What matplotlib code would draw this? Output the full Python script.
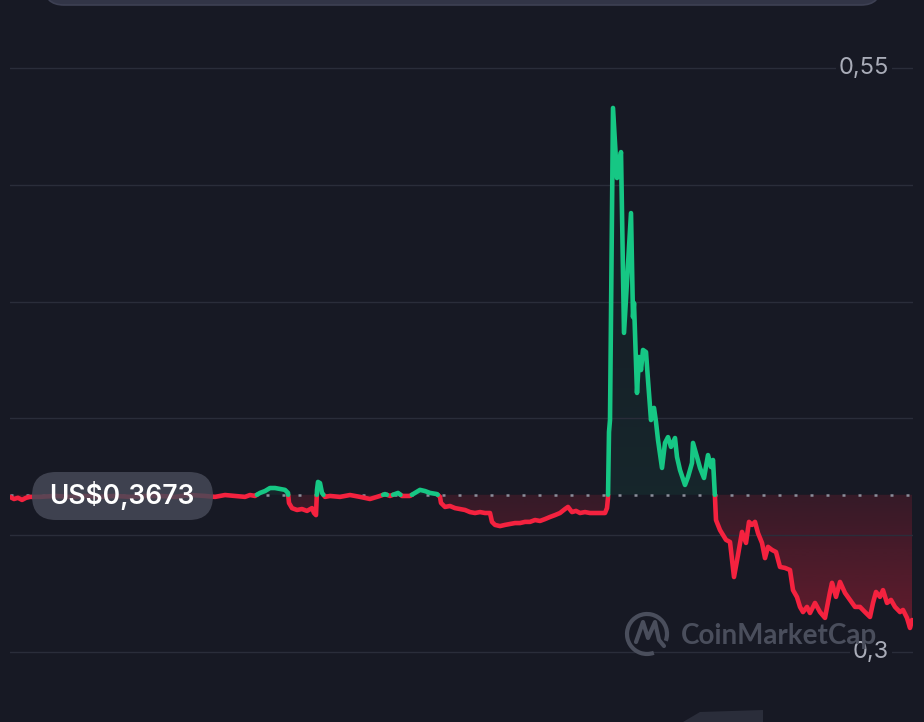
import numpy as np
import matplotlib
matplotlib.use("Agg")
import matplotlib.pyplot as plt
from matplotlib.colors import to_rgb
from matplotlib.patches import FancyBboxPatch, Arc, Polygon
from matplotlib.path import Path


BG = "#171924"
GREEN = "#16c784"
RED = "#f4223f"
GRID = "#2a2d3a"
TICK_COLOR = "#a9acb8"
MARK_COLOR = "#4a4e5c"

OPEN_PRICE = 0.3673
PRICE_LABEL = "US$0,3673"
GRID_LEVELS = [0.30, 0.35, 0.40, 0.45, 0.50, 0.55]
TICK_LABELS = {0.55: "0,55", 0.30: "0,3"}

# time steps (arbitrary units over the day) and price in USD
t = [
    0, 4, 8, 12, 16, 20, 30, 45, 60, 75, 90, 105, 120, 135, 150, 165, 180, 195,
    205, 215, 225, 235, 240, 245, 250, 255, 260, 265, 270, 275, 278, 279, 282,
    287, 292, 297, 302, 304, 306, 307, 308, 310, 312, 315, 320, 330, 340, 350,
    360, 370, 375, 380, 388, 392, 400, 405, 410, 415, 420, 427, 430, 431, 435,
    440, 445, 450, 455, 460, 465, 470, 475, 480, 482, 485, 490, 495, 500, 505,
    510, 515, 520, 525, 530, 535, 540, 545, 550, 555, 558, 562, 566, 570, 575,
    580, 585, 590, 595, 597, 598, 599, 600, 603, 607, 611, 614, 621, 623, 624,
    627, 629, 631, 633, 636, 638, 641, 644, 646, 648, 652, 655, 658, 661, 665,
    667, 670, 675, 678, 682, 683, 687, 690, 694, 698, 701, 703, 705, 706, 710,
    716, 720, 724, 728, 732, 736, 739, 742, 745, 748, 752, 755, 758, 762, 766,
    770, 775, 780, 783, 787, 790, 793, 797, 800, 805, 810, 815, 820, 822, 826,
    830, 835, 840, 845, 850, 855, 860, 863, 866, 870, 873, 877, 881, 885, 890,
    893, 897, 900, 902,
]
price = [
    0.3664, 0.3655, 0.3660, 0.3651, 0.3660, 0.3664, 0.3664, 0.3668, 0.3664,
    0.3668, 0.3664, 0.3668, 0.3664, 0.3668, 0.3668, 0.3664, 0.3672, 0.3668,
    0.3664, 0.3672, 0.3668, 0.3664, 0.3672, 0.3668, 0.3681, 0.3689, 0.3702,
    0.3702, 0.3698, 0.3694, 0.3681, 0.3638, 0.3616, 0.3608, 0.3612, 0.3604,
    0.3616, 0.3595, 0.3586, 0.3694, 0.3728, 0.3723, 0.3681, 0.3664, 0.3668,
    0.3664, 0.3672, 0.3664, 0.3655, 0.3668, 0.3676, 0.3668, 0.3681, 0.3668,
    0.3668, 0.3681, 0.3694, 0.3689, 0.3681, 0.3676, 0.3664, 0.3638, 0.3621,
    0.3625, 0.3616, 0.3612, 0.3608, 0.3599, 0.3595, 0.3599, 0.3595, 0.3595,
    0.3557, 0.3544, 0.3539, 0.3544, 0.3548, 0.3552, 0.3552, 0.3557, 0.3557,
    0.3565, 0.3561, 0.3569, 0.3578, 0.3586, 0.3595, 0.3612, 0.3621, 0.3599,
    0.3604, 0.3595, 0.3599, 0.3595, 0.3595, 0.3595, 0.3595, 0.3616, 0.3660,
    0.3942, 0.3993, 0.5329, 0.5029, 0.5140, 0.4366, 0.4879, 0.4434, 0.4494,
    0.4109, 0.4263, 0.4207, 0.4293, 0.4284, 0.4164, 0.3993, 0.4045, 0.3985,
    0.3908, 0.3788, 0.3895, 0.3920, 0.3878, 0.3916, 0.3835, 0.3779, 0.3715,
    0.3749, 0.3809, 0.3895, 0.3835, 0.3788, 0.3745, 0.3843, 0.3792, 0.3822,
    0.3660, 0.3565, 0.3522, 0.3480, 0.3471, 0.3321, 0.3415, 0.3514, 0.3467,
    0.3557, 0.3544, 0.3557, 0.3509, 0.3467, 0.3402, 0.3450, 0.3437, 0.3428,
    0.3364, 0.3360, 0.3351, 0.3265, 0.3235, 0.3193, 0.3171, 0.3193, 0.3167,
    0.3210, 0.3171, 0.3146, 0.3257, 0.3296, 0.3236, 0.3300, 0.3253, 0.3223,
    0.3193, 0.3193, 0.3171, 0.3150, 0.3210, 0.3257, 0.3236, 0.3265, 0.3210,
    0.3223, 0.3193, 0.3171, 0.3180, 0.3146, 0.3103, 0.3137,
]

W, H = 924, 722
Y_PER_PX = 0.25 / 584  # 0,55 -> px 68, 0,3 -> px 652
Y_TOP = 0.55 + 68 * Y_PER_PX
Y_BOTTOM = 0.30 - (H - 652) * Y_PER_PX


def split_at_open(x, y, base):
    """Вставляет точки пересечения с ценой открытия, чтобы цвет менялся ровно на линии."""
    xs, ys = [x[0]], [y[0]]
    for i in range(1, len(x)):
        a, b = y[i - 1] - base, y[i] - base
        if a * b < 0:
            xs.append(x[i - 1] + (x[i] - x[i - 1]) * a / (a - b))
            ys.append(base)
        xs.append(x[i])
        ys.append(y[i])
    return np.array(xs, float), np.array(ys, float)


def gradient_fill(ax, x, y, base, where, color, a_hi, a_lo, y_hi, y_lo):
    poly = ax.fill_between(x, y, base, where=where, facecolor="none", edgecolor="none")
    paths = poly.get_paths()
    if not paths:
        return
    clip = Path.make_compound_path(*paths)
    rgba = np.zeros((256, 1, 4))
    rgba[..., :3] = to_rgb(color)
    rgba[:, 0, 3] = np.linspace(a_hi, a_lo, 256)
    im = ax.imshow(rgba, aspect="auto", origin="upper",
                   extent=[x.min(), x.max(), y_lo, y_hi], zorder=1,
                   interpolation="bilinear")
    im.set_clip_path(clip, transform=ax.transData)


def px(v):
    return v / 100.0


fig = plt.figure(figsize=(W / 100, H / 100), dpi=100, facecolor=BG)
ax = fig.add_axes([10 / W, 0, 903 / W, 1])
ax.set_facecolor(BG)
ax.axis("off")

xs, ys = split_at_open(t, price, OPEN_PRICE)

# заливка под/над ценой открытия
gradient_fill(ax, xs, ys, OPEN_PRICE, ys >= OPEN_PRICE, GREEN, 0.0, 0.08, 0.54, OPEN_PRICE)
gradient_fill(ax, xs, ys, OPEN_PRICE, ys <= OPEN_PRICE, RED, 0.14, 0.36, OPEN_PRICE, 0.305)

for lvl in GRID_LEVELS:
    ax.axhline(lvl, color=GRID, lw=1.0, zorder=2)

ax.axhline(OPEN_PRICE, color="#8b8e9a", lw=1.8, dashes=(1.2, 5.2), zorder=3)

green = np.where(ys >= OPEN_PRICE, ys, np.nan)
red = np.where(ys <= OPEN_PRICE, ys, np.nan)
ax.plot(xs, red, color=RED, lw=3.3, solid_capstyle="round", solid_joinstyle="round", zorder=4)
ax.plot(xs, green, color=GREEN, lw=3.3, solid_capstyle="round", solid_joinstyle="round", zorder=4)

ax.set_xlim(0, 903)
ax.set_ylim(Y_BOTTOM, Y_TOP)

for lvl, txt in TICK_LABELS.items():
    ax.text(879, lvl, txt, ha="right", va="center", fontsize=17, color=TICK_COLOR,
            family=["Inter", "DejaVu Sans"], zorder=6,
            bbox=dict(boxstyle="square,pad=0.12", facecolor=BG, edgecolor="none"))

tr = fig.dpi_scale_trans

# плашка с ценой открытия
fig.patches.append(FancyBboxPatch((px(32), px(H - 520)), px(181), px(48),
                                  boxstyle="round,pad=0,rounding_size=0.24",
                                  facecolor="#464957", edgecolor="none", alpha=0.85,
                                  transform=tr, zorder=5))
fig.text(px(122), px(H - 496), PRICE_LABEL, transform=tr, ha="center", va="center",
         fontsize=19, weight="semibold", color="white", family=["Inter", "DejaVu Sans"], zorder=6)

# обрезанная панель сверху
fig.patches.append(FancyBboxPatch((px(44), px(H - 5)), px(837), px(60),
                                  boxstyle="round,pad=0,rounding_size=0.2",
                                  facecolor="#323547", edgecolor="#3d4053", lw=1.2,
                                  transform=tr, zorder=5))

# водяной знак
fig.patches.append(Arc((px(647), px(H - 634)), px(40), px(40), theta1=-20, theta2=290,
                       color=MARK_COLOR, lw=3.0, transform=tr, zorder=3))
m_pts = [(636, 642), (643, 622), (648, 638), (655, 622), (659, 640), (664, 646)]
fig.lines.append(plt.Line2D([px(a) for a, _ in m_pts], [px(H - b) for _, b in m_pts],
                            color=MARK_COLOR, lw=3.0, transform=tr, zorder=3,
                            solid_joinstyle="round", solid_capstyle="round"))
fig.text(px(681), px(H - 636), "CoinMarketCap", transform=tr, ha="left", va="center",
         fontsize=20, weight="bold", color=MARK_COLOR, family=["Lato", "DejaVu Sans"], zorder=3)

# кусочек элемента снизу
fig.patches.append(Polygon([(px(683), 0), (px(700), px(10)), (px(763), px(12)), (px(763), 0)],
                           closed=True, facecolor="#2a2d3a", edgecolor="none",
                           transform=tr, zorder=3))

fig.savefig("out.png", dpi=100, facecolor=BG)
